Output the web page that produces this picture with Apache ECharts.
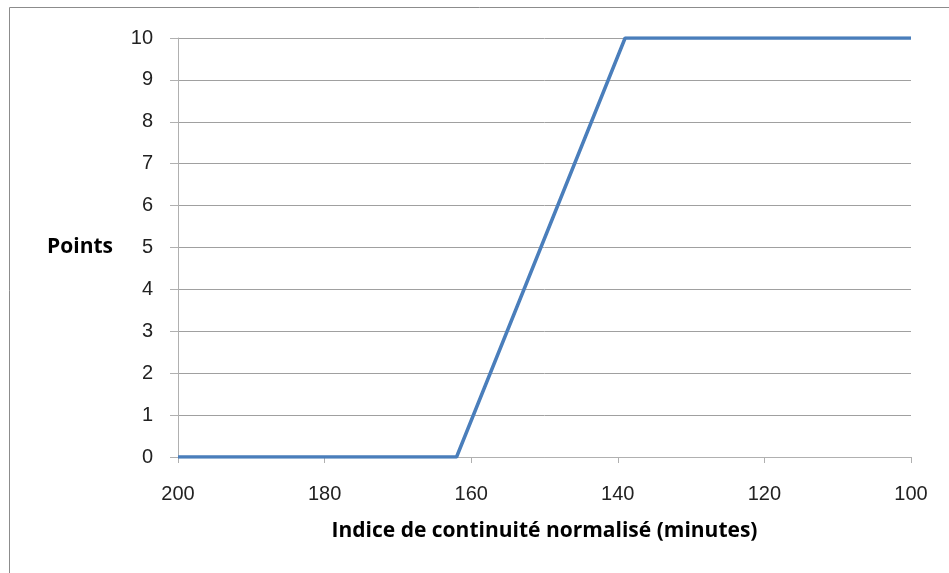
<!DOCTYPE html>
<html>
<head>
<meta charset="utf-8">
<script src="https://cdn.jsdelivr.net/npm/echarts@6/dist/echarts.min.js"></script>
<style>
  html, body { margin: 0; padding: 0; background: #fff; }
  #chart { width: 949px; height: 573px; }
</style>
</head>
<body>
<div id="chart"></div>
<script>
// données
const minutes = [200, 162, 139, 100];
const points = [0, 0, 10, 10];
const xTitle = 'Indice de continuité normalisé (minutes)';
const yTitle = 'Points';

const myChart = echarts.init(document.getElementById('chart'));

let option = {
  animation: false,
  textStyle: { fontFamily: 'Liberation Sans' },
  grid: { left: 178, right: 38, top: 38, bottom: 116 },
  graphic: [
    {
      type: 'rect',
      shape: { x: 9.5, y: 7.5, width: 960, height: 600 },
      style: { fill: 'none', stroke: '#8c8c8c', lineWidth: 1 },
    },
  ],
  xAxis: {
    type: 'value',
    min: 100,
    max: 200,
    interval: 20,
    inverse: true,
    name: xTitle,
    nameLocation: 'middle',
    nameGap: 64,
    nameTextStyle: { fontSize: 21, fontWeight: 'bold', color: '#000', fontFamily: 'Open Sans' },
    axisLine: { lineStyle: { color: '#b0b0b0' } },
    axisTick: { show: true, length: 6, lineStyle: { color: '#b0b0b0' } },
    axisLabel: { fontSize: 20, color: '#222', margin: 27 },
    splitLine: { show: false },
  },
  yAxis: {
    type: 'value',
    min: 0,
    max: 10,
    interval: 1,
    name: yTitle,
    nameLocation: 'middle',
    nameRotate: 0,
    nameGap: 65,
    nameTextStyle: { fontSize: 21, fontWeight: 'bold', color: '#000', fontFamily: 'Open Sans' },
    axisLine: { show: true, lineStyle: { color: '#b0b0b0' } },
    axisTick: { show: true, length: 8, inside: false, lineStyle: { color: '#b0b0b0' } },
    axisLabel: { fontSize: 20, color: '#222', margin: 25 },
    splitLine: { lineStyle: { color: '#a0a0a0', width: 1 } },
  },
  series: [
    {
      type: 'line',
      data: minutes.map((m, i) => [m, points[i]]),
      showSymbol: false,
      lineStyle: { color: '#4a7ebb', width: 3.5 },
    },
  ],
};

myChart.setOption(option);
</script>
</body>
</html>
